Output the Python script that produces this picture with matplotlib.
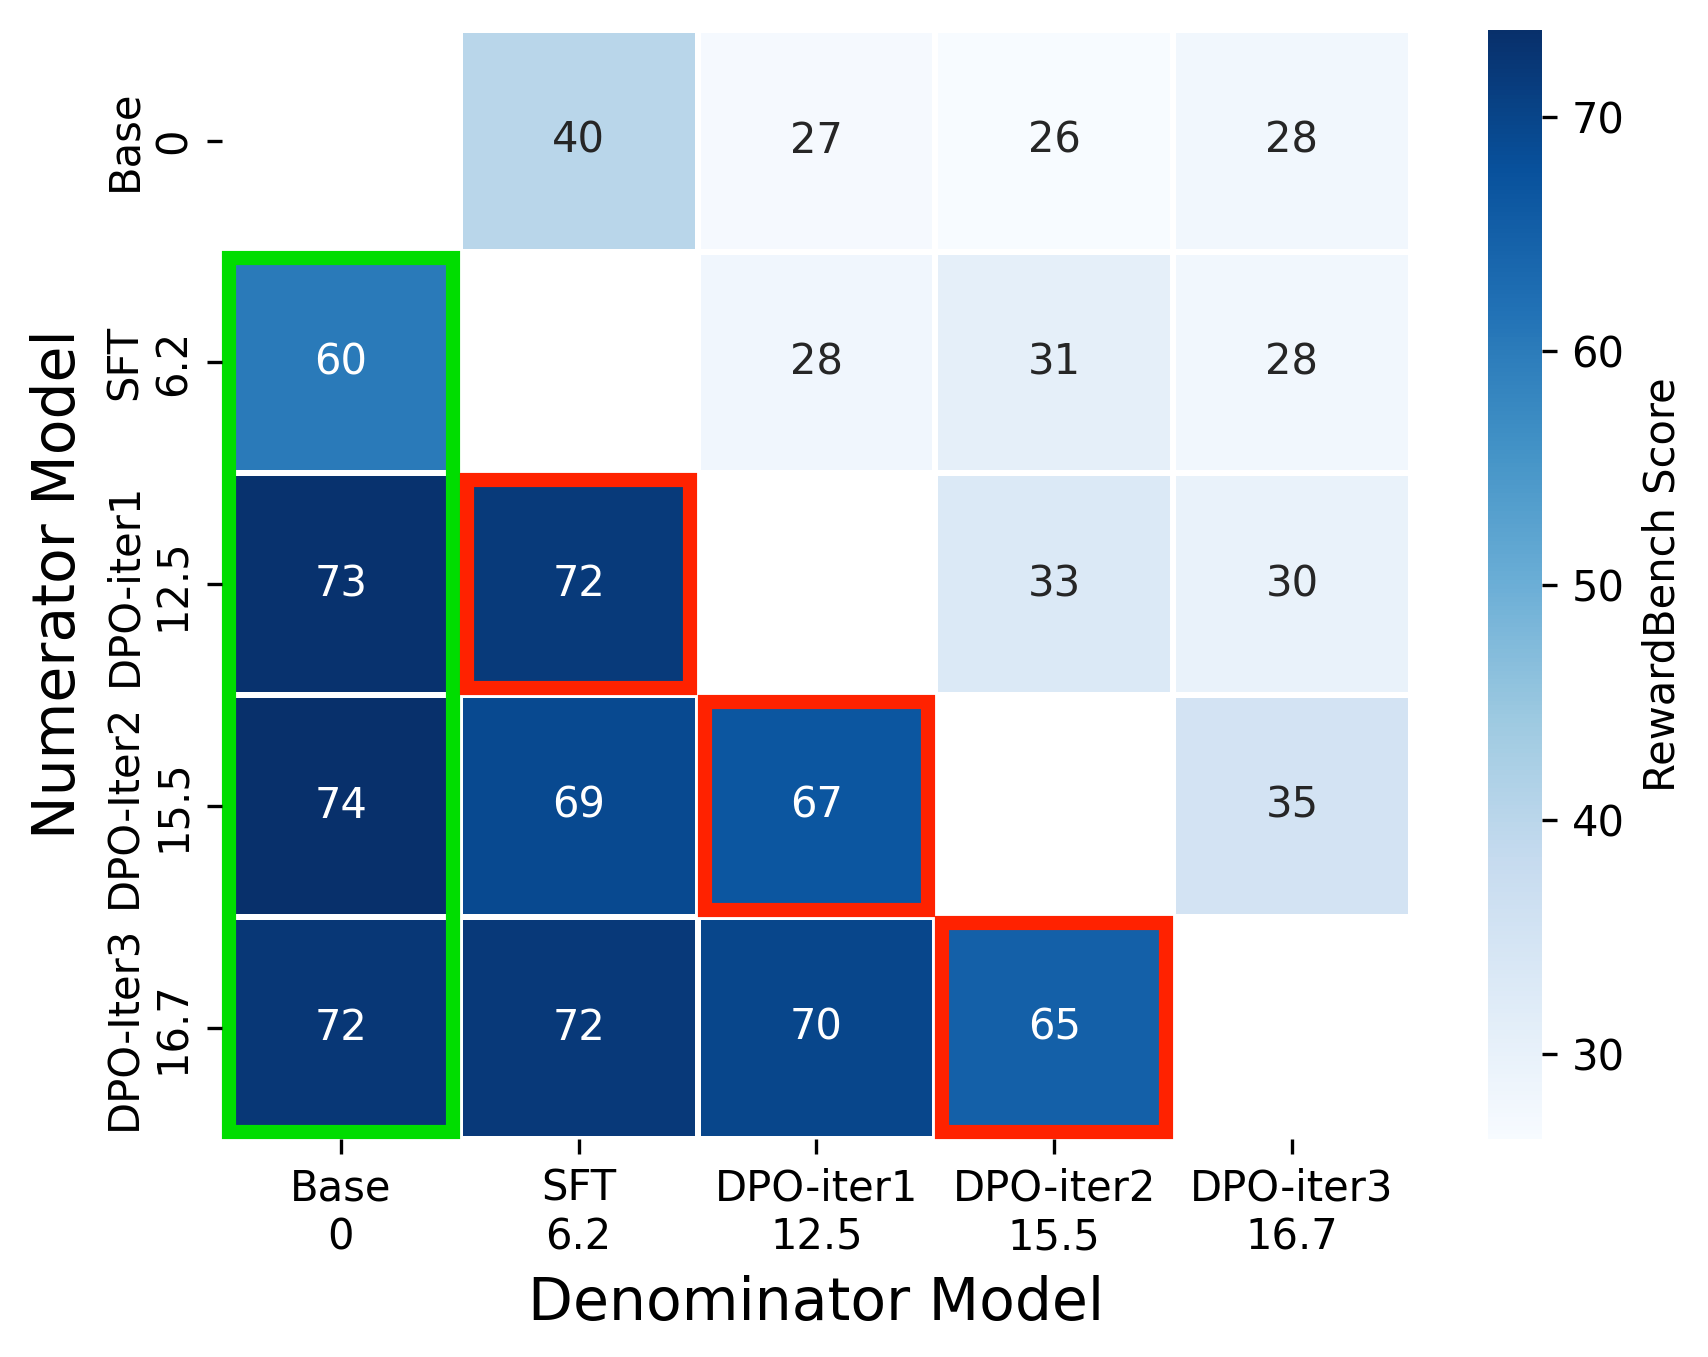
import matplotlib
matplotlib.use('Agg')
import matplotlib.pyplot as plt
from matplotlib.patches import Rectangle
import numpy as np
import seaborn as sns

models = ['Base', 'SFT', 'DPO-iter1', 'DPO-iter2', 'DPO-iter3']
row_names = ['Base', 'SFT', 'DPO-iter1', 'DPO-Iter2', 'DPO-Iter3']
steps = ['0', '6.2', '12.5', '15.5', '16.7']

# rows = numerator model, cols = denominator model (diagonal empty)
row_base = [np.nan, 40.2, 27.1, 26.4, 28.0]
row_sft = [60.3, np.nan, 28.2, 30.8, 27.9]
row_iter1 = [73.2, 71.8, np.nan, 33.1, 29.8]
row_iter2 = [73.7, 69.1, 66.8, np.nan, 35.2]
row_iter3 = [72.3, 72.0, 69.7, 64.9, np.nan]

scores = np.array([row_base, row_sft, row_iter1, row_iter2, row_iter3])

x_labels = [m + '\n' + s for m, s in zip(models, steps)]
y_labels = [m + '\n' + s for m, s in zip(row_names, steps)]

fig = plt.figure(figsize=(1708 / 300, 1357 / 300), dpi=300)
ax = fig.add_axes([0.130, 0.161, 0.696, 0.817])
cax = fig.add_axes([0.871, 0.161, 0.032, 0.817])

sns.heatmap(scores, ax=ax, cbar_ax=cax, cmap='Blues', annot=True, fmt='.0f',
            linewidths=1, linecolor='white', mask=np.isnan(scores),
            xticklabels=x_labels, yticklabels=y_labels,
            annot_kws={'fontsize': 10},
            cbar_kws={'label': 'RewardBench Score'})

ax.set_xlabel('Denominator Model', fontsize=14)
ax.set_ylabel('Numerator Model', fontsize=14)
ax.tick_params(labelsize=10)
plt.setp(ax.get_xticklabels(), rotation=0, ha='center')
plt.setp(ax.get_yticklabels(), rotation=90, va='center', ha='center')
ax.tick_params(axis='y', pad=14)

cax.tick_params(labelsize=10)
cax.yaxis.label.set_size(10)

# highlight boxes, drawn inside the cells
lw = 3.4
ins = 0.03
ax.add_patch(Rectangle((0 + ins, 1 + ins), 1 - 2 * ins, 4 - 2 * ins, fill=False,
                       edgecolor='#00dd00', lw=lw, joinstyle='miter', clip_on=False))
for c, r in [(1, 2), (2, 3), (3, 4)]:
    ax.add_patch(Rectangle((c + ins, r + ins), 1 - 2 * ins, 1 - 2 * ins, fill=False,
                           edgecolor='#ff2200', lw=lw, joinstyle='miter', clip_on=False))

fig.savefig('out.png', dpi=300)
